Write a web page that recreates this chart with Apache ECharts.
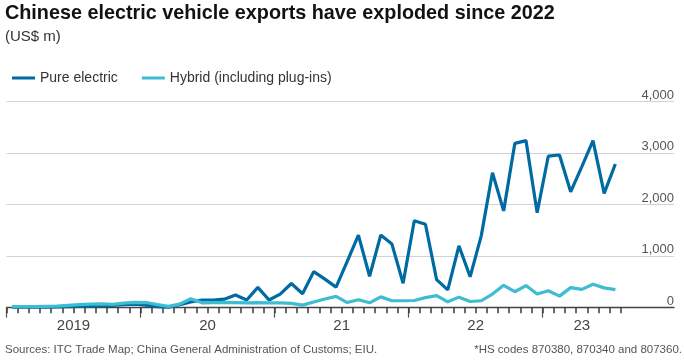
<!DOCTYPE html>
<html><head><meta charset="utf-8">
<script src="https://cdn.jsdelivr.net/npm/echarts@6/dist/echarts.min.js"></script>
<style>html,body{margin:0;padding:0;background:#fff}#c{width:684px;height:360px}</style>
</head><body><div id="c"></div>
<script>
// Monthly exports, Jan 2019 – Jul 2023, US$ m
const pureElectric = [10,10,10,10,15,20,25,30,35,45,60,70,
  50,20,10,60,110,150,150,165,245,150,395,150,
  265,470,270,700,555,400,900,1410,610,1410,1235,475,
  1690,1620,545,345,1200,600,1400,2620,1880,3190,3245,1845,
  2945,2965,2250,2740,3245,2220,2790];
const hybrid = [20,20,20,25,30,45,60,70,75,65,90,105,
  100,60,25,70,175,95,100,100,100,95,100,95,
  95,85,50,110,170,220,100,155,95,210,135,135,
  140,195,235,115,205,120,135,265,435,310,430,265,
  330,225,390,355,455,385,350];
const seriesNames = ['Pure electric', 'Hybrid (including plug-ins)'];
const yTicks = [0, 1000, 2000, 3000, 4000];
const yearLabels = ['2019', '20', '21', '22', '23'];
const yearLabelPos = [6, 18, 30, 42, 51.5];
const yearTickPos = [0, 12, 24, 36, 48];

const FONT = "'Liberation Sans', Arial, sans-serif";
const toPts = arr => arr.map((v, i) => [i + 0.5, v]);
const X_MAX = 59.75;
const W = 684, LEFT = 6.5, RIGHT = 10;
const GRID = {left: LEFT, right: RIGHT, top: 101.7, bottom: 52.3, containLabel: false};
const nMonths = pureElectric.length;
const tickGridRight = W - (LEFT + nMonths * (W - LEFT - RIGHT) / X_MAX);

const chart = echarts.init(document.getElementById('c'), null, {renderer: 'canvas'});
chart.setOption({
  animation: false,
  textStyle: {fontFamily: FONT},
  grid: [Object.assign({}, GRID), Object.assign({}, GRID, {right: tickGridRight})],
  legend: {
    left: 7, top: 66, icon: 'rect', itemWidth: 23, itemHeight: 3, itemGap: 24,
    data: seriesNames,
    textStyle: {fontFamily: FONT, fontSize: 14, color: '#333'}
  },
  xAxis: [{
    gridIndex: 0, type: 'value', min: 0, max: X_MAX,
    axisLine: {show: true, onZero: false, lineStyle: {color: '#444', width: 1.3}},
    axisTick: {show: false},
    axisLabel: {show: true, customValues: yearLabelPos, margin: 11,
      formatter: v => { const k = yearLabelPos.indexOf(v); return k >= 0 ? yearLabels[k] : ''; },
      fontFamily: FONT, fontSize: 15, color: '#444'},
    splitLine: {show: false}
  }, {
    gridIndex: 0, type: 'value', min: 0, max: X_MAX, position: 'bottom',
    axisLine: {show: false, onZero: false},
    axisTick: {show: true, customValues: yearTickPos, length: 10, lineStyle: {color: '#555', width: 1.2}},
    axisLabel: {show: false},
    splitLine: {show: false}
  }, {
    gridIndex: 1, type: 'value', min: 0, max: nMonths, interval: 1, position: 'bottom',
    axisLine: {show: false, onZero: false},
    axisTick: {show: true, length: 5.5, lineStyle: {color: '#3a3a3a', width: 1.5}},
    axisLabel: {show: false},
    splitLine: {show: false}
  }],
  yAxis: [{
    gridIndex: 0, type: 'value', min: 0, max: 4000, interval: 1000, position: 'right',
    axisLine: {show: false}, axisTick: {show: false},
    axisLabel: {inside: true, margin: 0, verticalAlign: 'bottom', fontFamily: FONT, fontSize: 13, color: '#555',
      formatter: v => yTicks.indexOf(v) >= 0 ? v.toLocaleString('en-US') : ''},
    splitLine: {show: true, lineStyle: {color: '#cfd4da', width: 1}}
  }, {
    gridIndex: 1, type: 'value', min: 0, max: 4000, show: false
  }],
  series: [
    {name: seriesNames[0], type: 'line', xAxisIndex: 0, yAxisIndex: 0, data: toPts(pureElectric), showSymbol: false,
      lineStyle: {width: 3.2, color: '#006BA2'}, itemStyle: {color: '#006BA2'}},
    {name: seriesNames[1], type: 'line', xAxisIndex: 0, yAxisIndex: 0, data: toPts(hybrid), showSymbol: false,
      lineStyle: {width: 3.2, color: '#3EBCD2'}, itemStyle: {color: '#3EBCD2'}}
  ],
  graphic: [
    {type: 'text', left: 5, top: 4, style: {text: 'Chinese electric vehicle exports have exploded since 2022',
      font: "bold 19.8px " + FONT, fill: '#121212'}},
    {type: 'text', left: 5, top: 29, style: {text: '(US$ m)', font: "15px " + FONT, fill: '#333'}},
    {type: 'text', left: 5, top: 344, style: {text: 'Sources: ITC Trade Map; China General Administration of Customs; EIU.',
      font: "11.5px " + FONT, fill: '#555'}},
    {type: 'text', right: 2, top: 344, style: {text: '*HS codes 870380, 870340 and 807360.',
      font: "11.5px " + FONT, fill: '#555'}}
  ]
});
</script></body></html>
